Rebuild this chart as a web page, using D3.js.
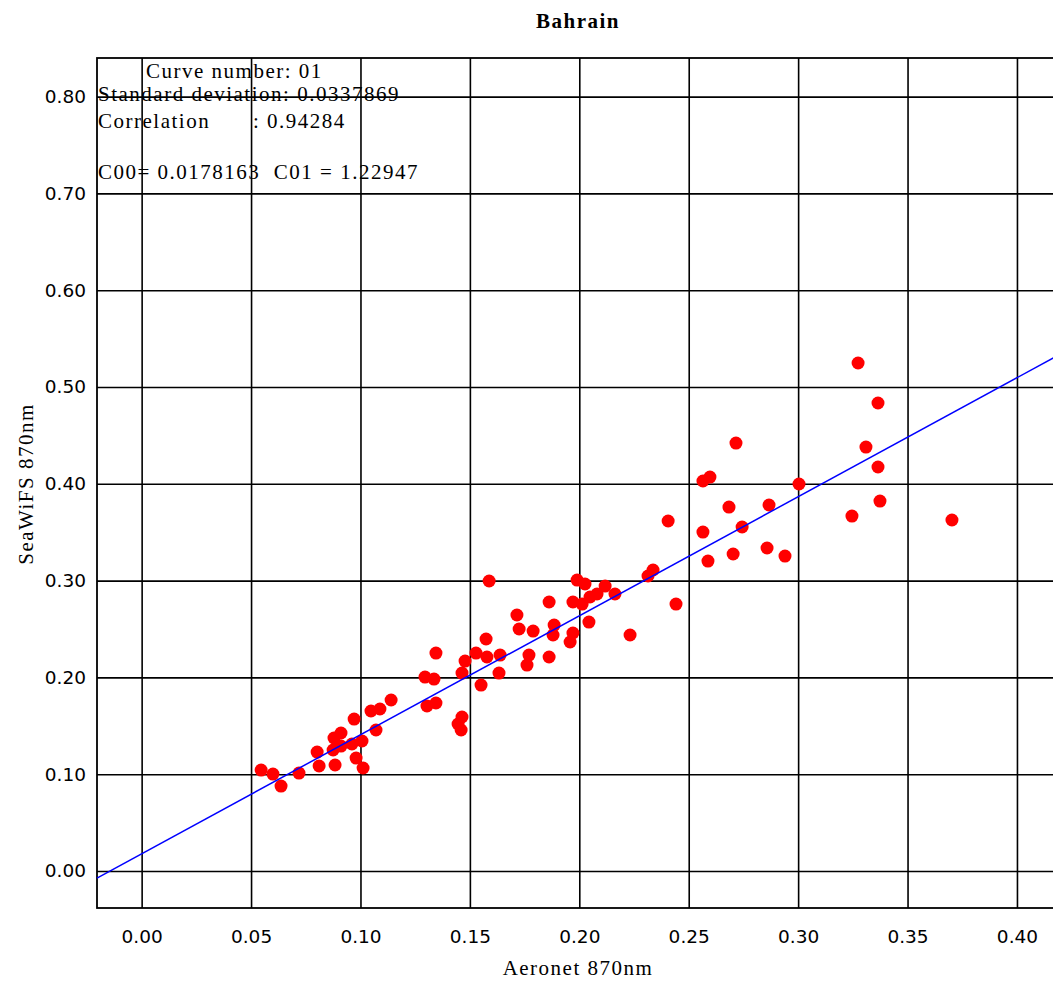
<!DOCTYPE html>
<html>
<head>
	<meta charset="UTF-8">
	<title>Bahrain</title>
	<script src="https://cdn.jsdelivr.net/npm/d3@7"></script>
	<style>
		body { margin: 0; background: #fff; }
		.serif { font-family: "Liberation Serif", "Times New Roman", serif; font-size: 21px; letter-spacing: 1.5px; fill: #000; }
		.tick text { font-family: "DejaVu Sans", sans-serif; font-size: 18.5px; fill: #000; }
	</style>
</head>
<body>
	<script type="text/javascript">
		// data
		var xTicks = [0, 0.05, 0.10, 0.15, 0.20, 0.25, 0.30, 0.35, 0.40];
		var yTicks = [0, 0.10, 0.20, 0.30, 0.40, 0.50, 0.60, 0.70, 0.80];

		var aeronet870 = [0.0546, 0.0600, 0.0637, 0.0719, 0.0802, 0.0811, 0.0879, 0.0911, 0.0875, 0.0911,
			0.0884, 0.0971, 0.0961, 0.1007, 0.0980, 0.1012, 0.1071, 0.1048, 0.1089, 0.1140,
			0.1345, 0.1295, 0.1336, 0.1304, 0.1345, 0.1464, 0.1446, 0.1460, 0.1478, 0.1464,
			0.1528, 0.1578, 0.1638, 0.1633, 0.1551, 0.1574, 0.1588, 0.1715, 0.1725, 0.1789,
			0.1770, 0.1761, 0.1862, 0.1885, 0.1880, 0.1862, 0.1971, 0.1990, 0.2026, 0.2013,
			0.2049, 0.2081, 0.2118, 0.2163, 0.2044, 0.1971, 0.1958, 0.2232, 0.2406, 0.2337,
			0.2314, 0.2442, 0.2565, 0.2588, 0.2565, 0.2597, 0.2716, 0.2684, 0.2744, 0.2703,
			0.2867, 0.2858, 0.2940, 0.3004, 0.3274, 0.3365, 0.3310, 0.3365, 0.3374, 0.3246,
			0.3703];
		var seawifs870 = [0.1043, 0.1002, 0.0878, 0.1012, 0.1229, 0.1085, 0.1374, 0.1426, 0.1250, 0.1291,
			0.1095, 0.1570, 0.1312, 0.1343, 0.1167, 0.1064, 0.1457, 0.1653, 0.1674, 0.1767,
			0.2252, 0.2004, 0.1983, 0.1705, 0.1736, 0.1591, 0.1519, 0.1457, 0.2169, 0.2045,
			0.2252, 0.2211, 0.2231, 0.2045, 0.1921, 0.2397, 0.2996, 0.2645, 0.2500, 0.2479,
			0.2231, 0.2128, 0.2779, 0.2541, 0.2438, 0.2211, 0.2779, 0.3006, 0.2965, 0.2758,
			0.2831, 0.2862, 0.2944, 0.2862, 0.2572, 0.2459, 0.2366, 0.2438, 0.3616, 0.3110,
			0.3048, 0.2758, 0.3502, 0.3202, 0.4029, 0.4070, 0.4421, 0.3760, 0.3554, 0.3275,
			0.3781, 0.3337, 0.3254, 0.3998, 0.5248, 0.4835, 0.4380, 0.4174, 0.3822, 0.3667,
			0.3626];

		var c00 = 0.0178163;
		var c01 = 1.22947;

		//create the canvas
		var svg = d3.select("body")
			.append("svg")
			.attr("width", 1053)
			.attr("height", 981);

		var plotLeft = 97, plotTop = 58, plotRight = 1061.6, plotBottom = 908;

		var x = d3.scaleLinear().domain([-0.0204, 0.4204]).range([plotLeft, plotRight]);
		var y = d3.scaleLinear().domain([-0.0382, 0.8399]).range([plotBottom, plotTop]);

		//grid + tick labels
		svg.append("g")
			.attr("transform", "translate(0," + plotBottom + ")")
			.call(d3.axisBottom(x).tickValues(xTicks).tickFormat(d3.format(".2f"))
				.tickSize(-(plotBottom - plotTop)).tickPadding(22));
		svg.append("g")
			.attr("transform", "translate(" + plotLeft + ",0)")
			.call(d3.axisLeft(y).tickValues(yTicks).tickFormat(d3.format(".2f"))
				.tickSize(-(plotRight - plotLeft)).tickPadding(11));

		svg.selectAll(".domain").remove();
		svg.selectAll(".tick line").attr("stroke", "#000").attr("stroke-width", 1.6);

		//frame
		svg.append("rect")
			.attr("x", plotLeft)
			.attr("y", plotTop)
			.attr("width", plotRight - plotLeft)
			.attr("height", plotBottom - plotTop)
			.attr("fill", "none")
			.attr("stroke", "#000")
			.attr("stroke-width", 1.8);

		//points
		svg.append("g").selectAll("circle")
			.data(aeronet870)
			.enter().append("circle")
			.attr("cx", function(d) { return x(d); })
			.attr("cy", function(d, i) { return y(seawifs870[i]); })
			.attr("r", 6.5)
			.attr("fill", "#ff0000");

		//fit line
		var xd = x.domain();
		svg.append("line")
			.attr("x1", x(xd[0]))
			.attr("y1", y(c00 + c01 * xd[0]))
			.attr("x2", x(xd[1]))
			.attr("y2", y(c00 + c01 * xd[1]))
			.attr("stroke", "#0000ff")
			.attr("stroke-width", 1.5);

		//title and axis names
		svg.append("text")
			.attr("class", "serif")
			.attr("x", 578)
			.attr("y", 28)
			.attr("text-anchor", "middle")
			.style("font-weight", "bold")
			.style("font-size", "21px")
			.text("Bahrain");

		svg.append("text")
			.attr("class", "serif")
			.attr("x", 578)
			.attr("y", 975)
			.attr("text-anchor", "middle")
			.text("Aeronet 870nm");

		svg.append("text")
			.attr("class", "serif")
			.attr("transform", "translate(33,484) rotate(-90)")
			.attr("text-anchor", "middle")
			.text("SeaWiFS 870nm");

		//statistics box
		var stats = svg.append("g").attr("class", "serif");
		stats.append("text").attr("x", 146).attr("y", 78).text("Curve number: 01");
		stats.append("text").attr("x", 98).attr("y", 101).text("Standard deviation: 0.0337869");
		stats.append("text").attr("x", 98).attr("y", 128).text("Correlation");
		stats.append("text").attr("x", 253).attr("y", 128).text(": 0.94284");
		stats.append("text").attr("x", 98).attr("y", 179)
			.text("C00= " + c00 + "  C01 = " + c01)
			.attr("xml:space", "preserve")
			.style("white-space", "pre");
	</script>
</body>
</html>
